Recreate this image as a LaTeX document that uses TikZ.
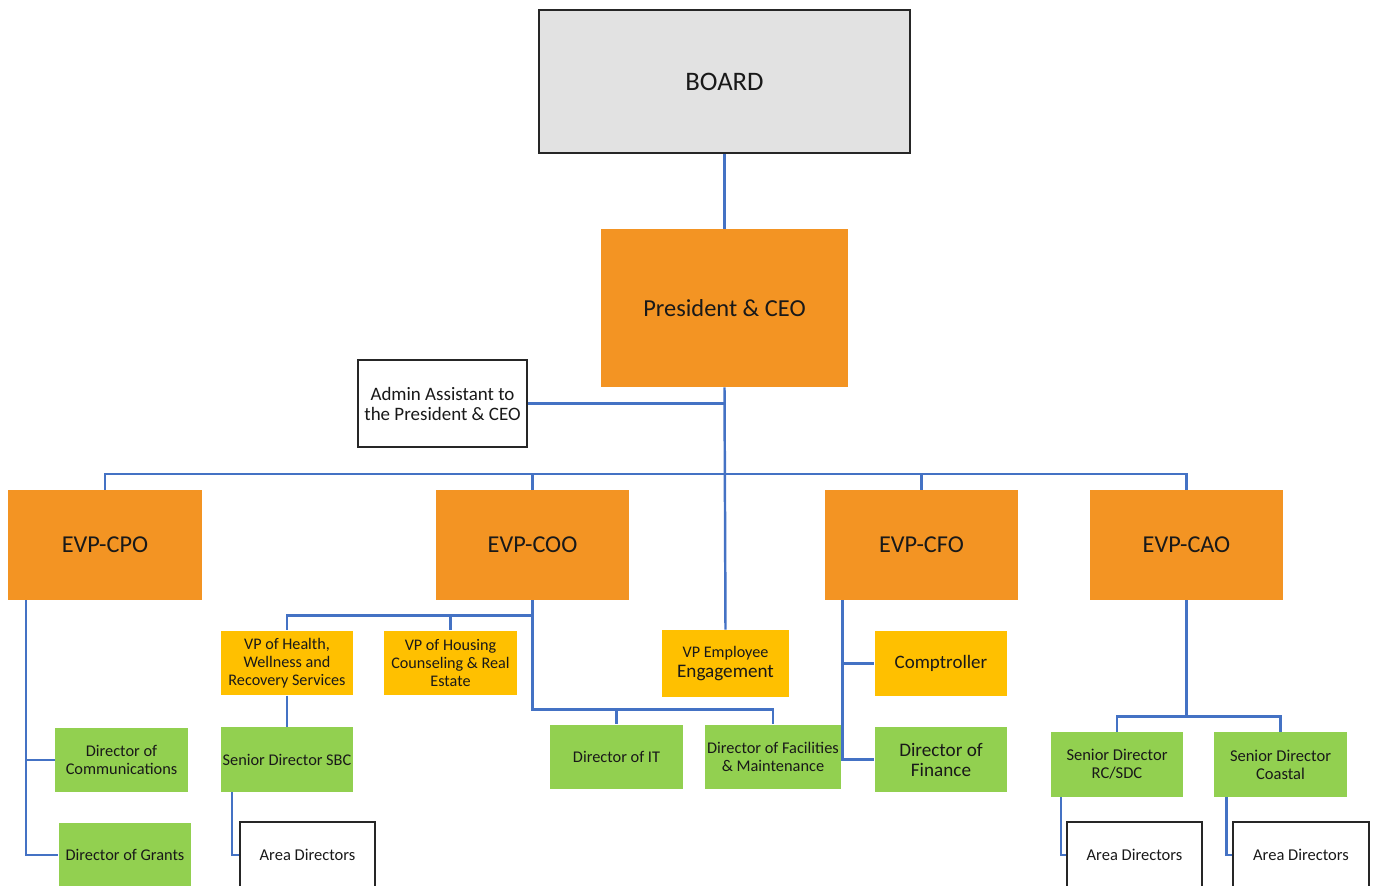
\documentclass[tikz,border=0pt]{standalone}
\usepackage{fontspec}
\setmainfont{Carlito}
\usetikzlibrary{calc}
\definecolor{orgorange}{HTML}{F39423}
\definecolor{orgyellow}{HTML}{FFC000}
\definecolor{orggreen}{HTML}{92D050}
\definecolor{orgblue}{HTML}{4472C4}
\definecolor{orggray}{HTML}{E2E2E2}
\newcommand{\boxfont}[2]{\fontsize{#1pt}{#2pt}\selectfont}
\tikzstyle{orgbox}=[rectangle,inner sep=1pt,align=center,text=black!90]
\tikzstyle{boardbox}=[orgbox,fill=orggray,draw=black!85,line width=1.2pt,minimum width=7.42cm,minimum height=2.86cm,font=\boxfont{15.2}{18}]
\tikzstyle{evpbox}=[orgbox,fill=orgorange,minimum width=3.87cm,minimum height=2.2cm,font=\boxfont{13.8}{16}]
\tikzstyle{vpbox}=[orgbox,fill=orgyellow,minimum width=2.66cm,minimum height=1.29cm,font=\boxfont{9.2}{10.2}]
\tikzstyle{dirbox}=[orgbox,fill=orggreen,minimum width=2.66cm,minimum height=1.29cm,font=\boxfont{9.3}{10.2}]
\tikzstyle{plainbox}=[orgbox,fill=white,draw=black!85,line width=1.2pt,font=\boxfont{9.4}{12}]
\tikzstyle{link}=[orgblue,line width=1.4pt]

\begin{document}
\begin{tikzpicture}[x=0.02cm,y=-0.02cm]
\useasboundingbox (0,0) rectangle (1373,886);
\clip (0,0) rectangle (1373,886);

% top of the chart
\node[boardbox] (board) at (724.5,81.5) {BOARD};
\node[evpbox,minimum width=4.94cm,minimum height=3.16cm,font=\boxfont{13.9}{16}] (pres) at (724.5,308) {President \& CEO};
\node[plainbox,minimum width=3.38cm,minimum height=1.74cm,font=\boxfont{10.8}{11.4}] (admin) at (442.5,403.5) {Admin Assistant to\\the President \& CEO};

% executive VPs
\node[evpbox] (cpo) at (105,545) {EVP-CPO};
\node[evpbox] (coo) at (532.5,545) {EVP-COO};
\node[evpbox] (cfo) at (921.5,545) {EVP-CFO};
\node[evpbox] (cao) at (1186.5,545) {EVP-CAO};

% VPs
\node[vpbox] (health) at (287,663) {VP of Health,\\Wellness and\\Recovery Services};
\node[vpbox] (housing) at (450.5,663) {VP of Housing\\Counseling \& Real\\Estate};
\node[vpbox,minimum width=2.54cm,minimum height=1.34cm,font=\boxfont{9.2}{11.4}] (engage) at (725.5,663.5) {VP Employee\\\boxfont{10.9}{11.4}Engagement};
\node[vpbox,font=\boxfont{10.8}{12}] (comp) at (941,663.5) {Comptroller};

% directors
\node[dirbox] (comm) at (121.5,760) {Director of\\Communications};
\node[dirbox] (grants) at (125,855) {Director of Grants};
\node[dirbox] (sbc) at (287,759.5) {Senior Director SBC};
\node[dirbox] (it) at (616.5,757) {Director of IT};
\node[dirbox] (facil) at (773,757) {Director of Facilities\\\& Maintenance};
\node[dirbox,font=\boxfont{10.9}{11.4}] (finance) at (941,759.5) {Director of\\Finance};
\node[dirbox,font=\boxfont{9.4}{10.2}] (rcsdc) at (1117,764.5) {Senior Director\\RC/SDC};
\node[dirbox,font=\boxfont{9.4}{10.2}] (coastal) at (1280.5,764.5) {Senior Director\\Coastal};

% area directors (cut by the bottom edge)
\node[plainbox,minimum width=2.7cm,minimum height=1.32cm] (area1) at (307.5,855) {Area Directors};
\node[plainbox,minimum width=2.7cm,minimum height=1.32cm] (area2) at (1134.5,855) {Area Directors};
\node[plainbox,minimum width=2.72cm,minimum height=1.32cm] (area3) at (1301,855) {Area Directors};

% connectors
\coordinate (bus) at (724.5,474);
\draw[link] (board) -- (pres);
\draw[link] (admin.east) -- (admin.east -| pres.south);
\draw[link] (pres.south) -- (engage.north);
\draw[link] (cpo.north) |- (bus) -| (cao.north);
\draw[link] (coo.north) -- (coo.north |- bus);
\draw[link] (cfo.north) -- (cfo.north |- bus);

\draw[link] ($(cpo.south west)+(18,0)$) |- (comm.west);
\draw[link] ($(cpo.south west)+(18,0)$) |- (grants.west);

\coordinate (coohub) at ($(coo.south)+(0,15)$);
\coordinate (coodir) at ($(coo.south)+(0,109)$);
\draw[link] (coo.south) -- (coohub) -| (health.north);
\draw[link] (coohub -| housing.north) -- (housing.north);
\draw[link] (coohub) -- (coodir) -| (facil.north);
\draw[link] (coodir -| it.north) -- (it.north);
\draw[link] (health) -- (sbc);
\draw[link] ($(sbc.south west)+(12,0)$) |- (area1.west);

\draw[link] ($(cfo.south west)+(18,0)$) |- (comp.west);
\draw[link] ($(cfo.south west)+(18,0)$) |- (finance.west);

\coordinate (caohub) at ($(cao.south)+(0,116)$);
\draw[link] (cao.south) -- (caohub) -| (rcsdc.north);
\draw[link] (caohub) -| (coastal.north);
\draw[link] ($(rcsdc.south west)+(11,0)$) |- (area2.west);
\draw[link] ($(coastal.south west)+(13,0)$) |- (area3.west);

\end{tikzpicture}
\end{document}
